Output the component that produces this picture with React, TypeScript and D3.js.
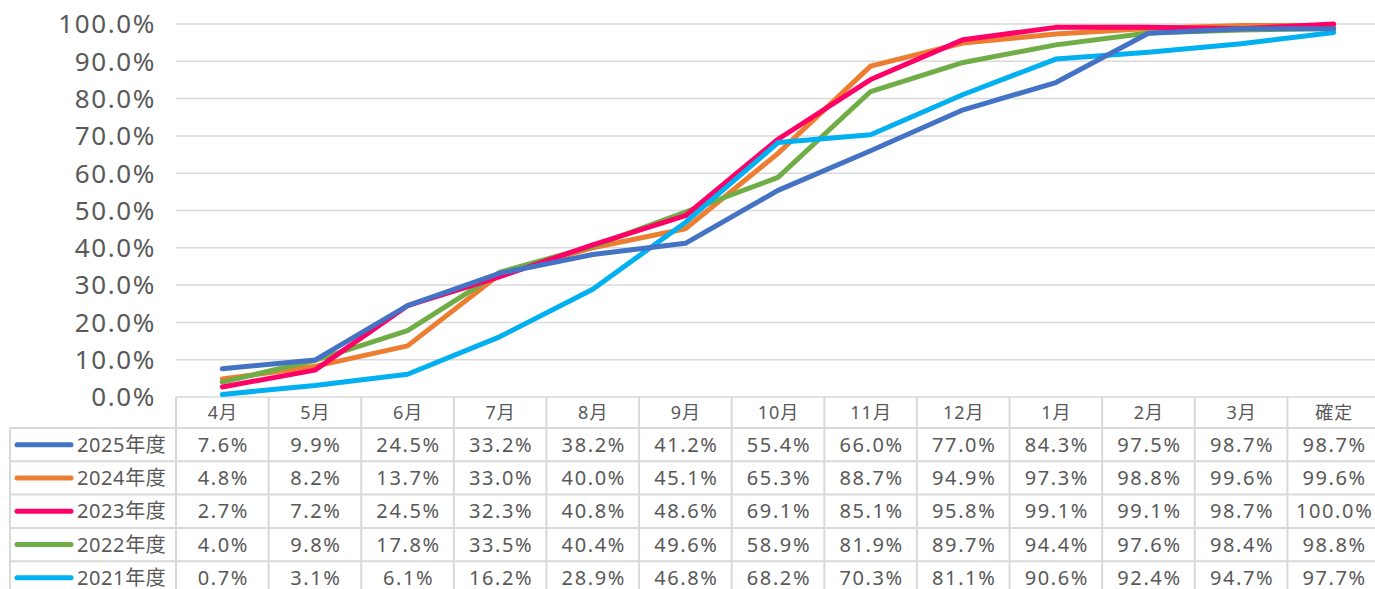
import React from 'react';
import { scaleBand, scaleLinear, line } from 'd3';

const months = ['4月', '5月', '6月', '7月', '8月', '9月', '10月', '11月', '12月', '1月', '2月', '3月', '確定'];
const seriesNames = ['2025年度', '2024年度', '2023年度', '2022年度', '2021年度'];
const seriesColors = ['#4472C4', '#ED7D31', '#FF0066', '#70AD47', '#00B0F0'];

const fy2025 = [7.6, 9.9, 24.5, 33.2, 38.2, 41.2, 55.4, 66.0, 77.0, 84.3, 97.5, 98.7, 98.7];
const fy2024 = [4.8, 8.2, 13.7, 33.0, 40.0, 45.1, 65.3, 88.7, 94.9, 97.3, 98.8, 99.6, 99.6];
const fy2023 = [2.7, 7.2, 24.5, 32.3, 40.8, 48.6, 69.1, 85.1, 95.8, 99.1, 99.1, 98.7, 100.0];
const fy2022 = [4.0, 9.8, 17.8, 33.5, 40.4, 49.6, 58.9, 81.9, 89.7, 94.4, 97.6, 98.4, 98.8];
const fy2021 = [0.7, 3.1, 6.1, 16.2, 28.9, 46.8, 68.2, 70.3, 81.1, 90.6, 92.4, 94.7, 97.7];

const seriesValues = [fy2025, fy2024, fy2023, fy2022, fy2021];
const yTicks = [0, 10, 20, 30, 40, 50, 60, 70, 80, 90, 100];

// draw order bottom -> top
const drawOrder = [1, 3, 2, 4, 0];

const W = 1375;
const H = 589;
const FONT = '"Noto Sans", "Noto Sans CJK JP", sans-serif';
const TEXT = '#595959';
const GRID = '#D9D9D9';

export default function App() {
  const x = scaleBand<string>().domain(months).range([176, 1380]);
  const y = scaleLinear().domain([0, 100]).range([397, 24]);

  const tableTop = 397;
  const headerH = 31;
  const rowH = 33.3;
  const legendLeft = 10;

  const lineGen = line<number>()
    .x((_, i) => (x(months[i]) as number) + x.bandwidth() / 2)
    .y((d) => y(d));

  const rowY = (r: number) => tableTop + headerH + r * rowH;
  const mid = (m: string) => (x(m) as number) + x.bandwidth() / 2;

  return (
    <svg
      width={W}
      height={H}
      style={{ position: 'absolute', left: 0, top: 0, background: '#fff' }}
      fontFamily={FONT}
    >
      {/* gridlines + y labels */}
      {yTicks.map((t) => (
        <g key={t}>
          <line x1={176} x2={1380} y1={y(t)} y2={y(t)} stroke={GRID} strokeWidth={1.5} />
          <text x={156} y={y(t)} dy="0.36em" textAnchor="end" fontSize={26} letterSpacing={1.6} fill={TEXT}>
            {t.toFixed(1)}%
          </text>
        </g>
      ))}

      {/* table grid */}
      {months.map((m) => (
        <line key={m} x1={x(m)} x2={x(m)} y1={tableTop} y2={H} stroke={GRID} strokeWidth={2} />
      ))}
      <line x1={1380} x2={1380} y1={tableTop} y2={H} stroke={GRID} strokeWidth={2} />
      <line x1={legendLeft} x2={legendLeft} y1={rowY(0)} y2={H} stroke={GRID} strokeWidth={2} />
      {seriesNames.map((_, r) => (
        <line key={r} x1={legendLeft} x2={1380} y1={rowY(r)} y2={rowY(r)} stroke={GRID} strokeWidth={2} />
      ))}

      {/* header */}
      {months.map((m) => (
        <text
          key={m}
          x={mid(m) + 0.5}
          y={tableTop + headerH / 2}
          dy="0.36em"
          textAnchor="middle"
          fontSize={18}
          letterSpacing={1}
          fill={TEXT}
        >
          {m}
        </text>
      ))}

      {/* rows */}
      {seriesNames.map((name, r) => {
        const cy = rowY(r) + rowH / 2;
        return (
          <g key={name}>
            <line x1={17} x2={71} y1={cy} y2={cy} stroke={seriesColors[r]} strokeWidth={5} strokeLinecap="round" />
            <text x={77} y={cy} dy="0.36em" fontSize={20} letterSpacing={0.6} fill={TEXT}>
              {name}
            </text>
            {seriesValues[r].map((v, i) => (
              <text
                key={i}
                x={mid(months[i]) + 1}
                y={cy}
                dy="0.36em"
                textAnchor="middle"
                fontSize={20}
                letterSpacing={1.6}
                fill={TEXT}
              >
                {v.toFixed(1)}%
              </text>
            ))}
          </g>
        );
      })}

      {/* lines */}
      {drawOrder.map((s) => (
        <path
          key={s}
          d={lineGen(seriesValues[s]) || ''}
          fill="none"
          stroke={seriesColors[s]}
          strokeWidth={5}
          strokeLinejoin="round"
          strokeLinecap="round"
        />
      ))}
    </svg>
  );
}
